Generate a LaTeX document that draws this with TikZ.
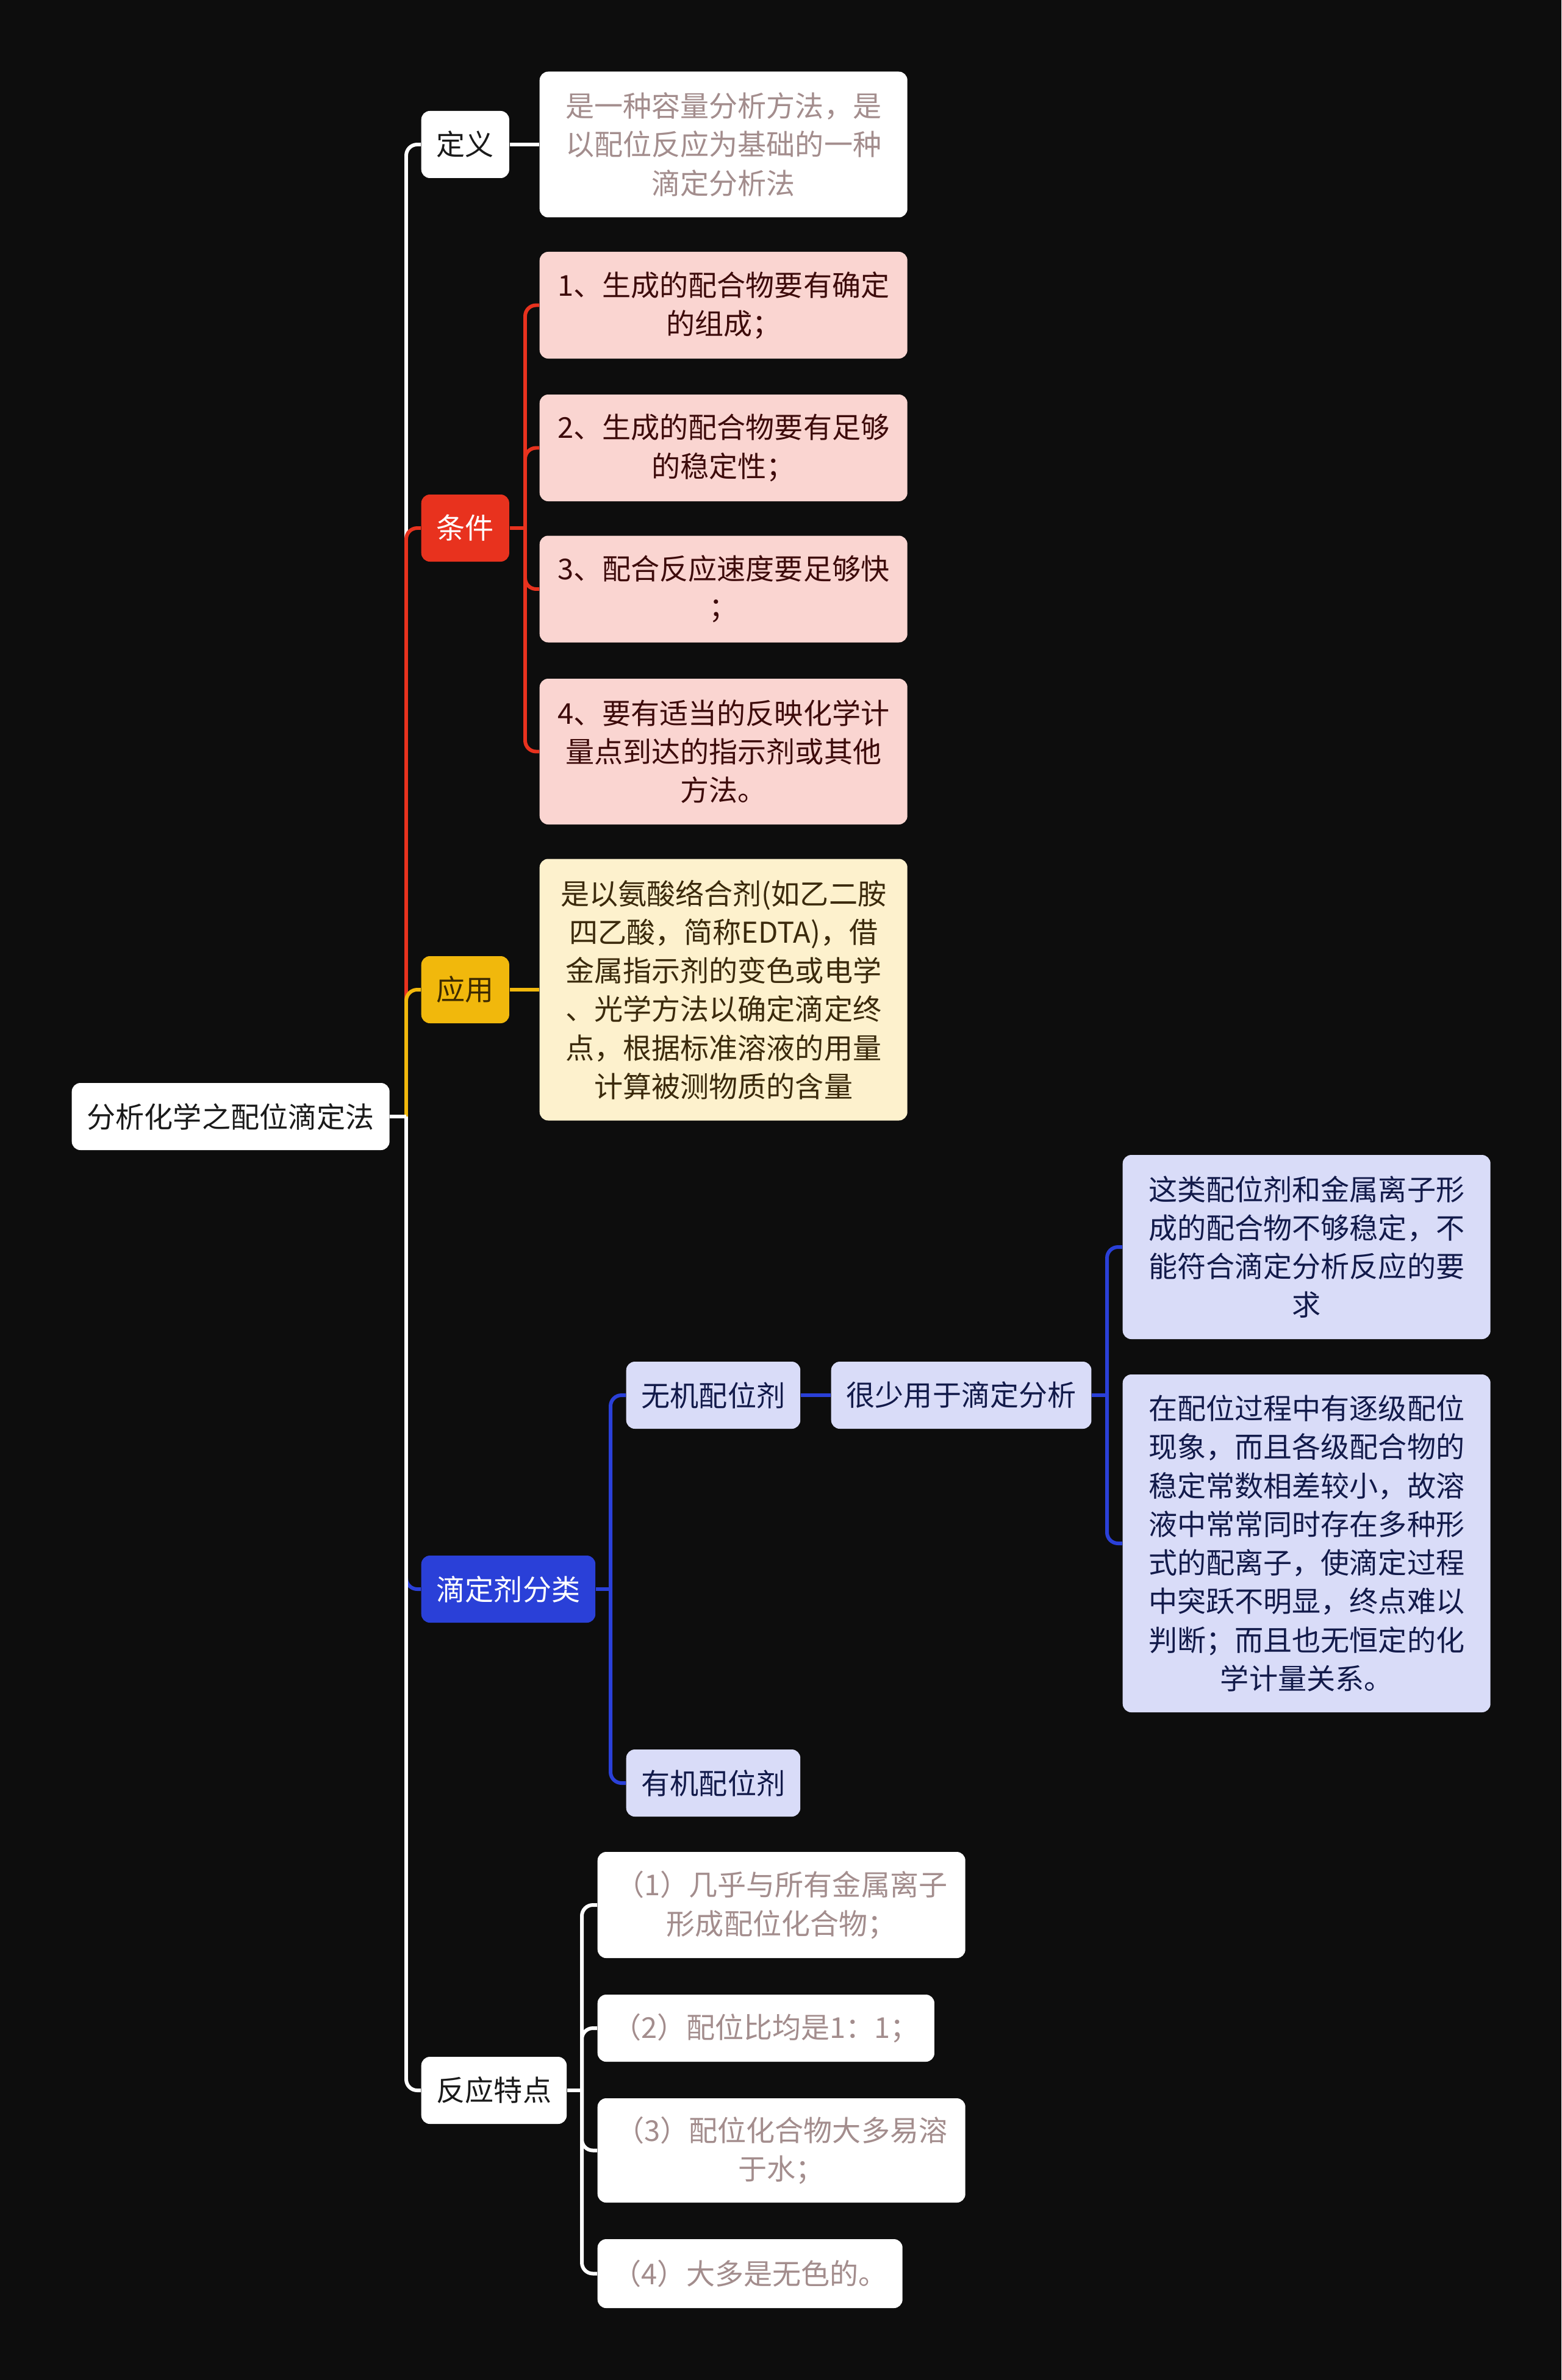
\documentclass[tikz,border=0pt]{standalone}
\usepackage{fontspec}
\setmainfont{Noto Sans CJK SC}
\usetikzlibrary{positioning,calc}
\definecolor{bgblk} {RGB}{ 13, 13, 13}
\definecolor{tdark} {RGB}{ 26, 26, 26}
\definecolor{trose} {RGB}{163,141,141}
\definecolor{cred}  {RGB}{232, 50, 30}
\definecolor{cpink} {RGB}{250,213,209}
\definecolor{tpink} {RGB}{ 61, 11, 11}
\definecolor{cgold} {RGB}{241,184, 12}
\definecolor{tgold} {RGB}{ 61, 42,  0}
\definecolor{ccream}{RGB}{253,241,205}
\definecolor{tcream}{RGB}{ 59, 42, 12}
\definecolor{cblue} {RGB}{ 42, 64,216}
\definecolor{clav}  {RGB}{217,220,248}
\definecolor{tlav}  {RGB}{ 18, 26, 74}
\tikzset{
  % common box
  MB/.style={rectangle,rounded corners=4pt,align=center,inner xsep=0.25cm,
             inner ysep=0pt,minimum height=1.1cm,
             font=\fontsize{13.4pt}{18pt}\selectfont},
  % white box, dark text
  WB/.style={MB,fill=white,text=tdark,minimum width=#1},
  WB/.default=1cm,
  % white box, grey text
  GB/.style={MB,fill=white,text=trose,minimum width=#1},
  GB/.default=1cm,
  % red topic
  RB/.style={MB,fill=cred,text=white,minimum width=#1},
  RB/.default=1cm,
  % pink leaf
  PB/.style={MB,fill=cpink,text=tpink,minimum width=#1},
  PB/.default=6.03cm,
  % gold topic
  YB/.style={MB,fill=cgold,text=tgold,minimum width=#1},
  YB/.default=1cm,
  % cream leaf
  CB/.style={MB,fill=ccream,text=tcream,minimum width=#1},
  CB/.default=6.03cm,
  % blue topic
  BB/.style={MB,fill=cblue,text=white,minimum width=#1},
  BB/.default=1cm,
  % lavender leaf
  LB/.style={MB,fill=clav,text=tlav,minimum width=#1},
  LB/.default=1cm,
  % connectors
  WL/.style={line width=1.7pt,draw=white,rounded corners=0.18cm},
  RL/.style={line width=1.7pt,draw=cred,rounded corners=0.18cm},
  YL/.style={line width=1.7pt,draw=cgold,rounded corners=0.18cm},
  BL/.style={line width=1.7pt,draw=cblue,rounded corners=0.18cm},
}
\begin{document}
\begin{tikzpicture}
  \fill[bgblk] (0,0) rectangle (25.6,-39.03);
  \useasboundingbox (0,0) rectangle (25.6,-39.03);

  \node[WB,anchor=west] at (1.17,-18.31) (root) {分析化学之配位滴定法};
  \coordinate (trunk) at (6.66,-18.31);

  % 定义
  \node[WB,anchor=west] at (6.90,-2.37) (def) {定义};
  \node[GB=6.03cm,minimum height=2.39cm,anchor=west]
        at (8.84,-2.37) (defd)
        {是一种容量分析方法，是\\以配位反应为基础的一种\\滴定分析法};
  \draw[WL] (trunk) |- (def.west);
  \draw[WL] (def.east) -- (defd.west);

  % 条件
  \node[RB,anchor=west] at (6.90,-8.66) (cond) {条件};
  \draw[RL] (trunk) |- (cond.west);
  \coordinate (cj) at (8.61,-8.66);
  \draw[RL] (cond.east) -- (cj);
  \node[PB,minimum height=1.75cm,anchor=west] at (8.84,-5.005) (c1)
        {1、生成的配合物要有确定\\的组成；};
  \node[PB,minimum height=1.75cm,anchor=west] at (8.84,-7.345) (c2)
        {2、生成的配合物要有足够\\的稳定性；};
  \node[PB,minimum height=1.75cm,anchor=west] at (8.84,-9.66) (c3)
        {3、配合反应速度要足够快\\；};
  \node[PB,minimum height=2.39cm,anchor=west] at (8.84,-12.325) (c4)
        {4、要有适当的反映化学计\\量点到达的指示剂或其他\\方法。};
  \foreach \c in {c1,c2,c3,c4}
    \draw[RL] (cj) |- (\c.west);

  % 应用
  \node[YB,anchor=west] at (6.90,-16.23) (app) {应用};
  \node[CB,minimum height=4.29cm,anchor=west] at (8.84,-16.23) (appd)
        {是以氨酸络合剂(如乙二胺\\四乙酸，简称EDTA)，借\\金属指示剂的变色或电学\\、光学方法以确定滴定终\\点，根据标准溶液的用量\\计算被测物质的含量};
  \draw[YL] (trunk) |- (app.west);
  \draw[YL] (app.east) -- (appd.west);

  % 滴定剂分类
  \node[BB,anchor=west] at (6.90,-26.06) (tit) {滴定剂分类};
  \draw[BL] (trunk) |- (tit.west);
  \coordinate (tj) at (10.01,-26.06);
  \draw[BL] (tit.east) -- (tj);
  \node[LB,anchor=west] at (10.26,-22.88) (inorg) {无机配位剂};
  \node[LB,anchor=west] at (10.26,-29.24) (org) {有机配位剂};
  \draw[BL] (tj) |- (inorg.west);
  \draw[BL] (tj) |- (org.west);
  \node[LB,anchor=west] at (13.62,-22.88) (rare) {很少用于滴定分析};
  \draw[BL] (inorg.east) -- (rare.west);
  \coordinate (rj) at (18.15,-22.88);
  \draw[BL] (rare.east) -- (rj);
  \node[LB=6.03cm,minimum height=3.02cm,anchor=west] at (18.40,-20.45) (rA)
        {这类配位剂和金属离子形\\成的配合物不够稳定，不\\能符合滴定分析反应的要\\求};
  \node[LB=6.03cm,minimum height=5.54cm,anchor=west] at (18.40,-25.31) (rB)
        {在配位过程中有逐级配位\\现象，而且各级配合物的\\稳定常数相差较小，故溶\\液中常常同时存在多种形\\式的配离子，使滴定过程\\中突跃不明显，终点难以\\判断；而且也无恒定的化\\学计量关系。};
  \draw[BL] (rj) |- (rA.west);
  \draw[BL] (rj) |- (rB.west);

  % 反应特点
  \node[WB,anchor=west] at (6.90,-34.28) (feat) {反应特点};
  \draw[WL] (trunk) |- (feat.west);
  \coordinate (fj) at (9.54,-34.28);
  \draw[WL] (feat.east) -- (fj);
  \node[GB=6.03cm,minimum height=1.74cm,anchor=west] at (9.79,-31.24) (f1)
        {（1）几乎与所有金属离子\\形成配位化合物；};
  \node[GB,anchor=west] at (9.79,-33.26) (f2) {（2）配位比均是1：1；};
  \node[GB=6.03cm,minimum height=1.71cm,anchor=west] at (9.79,-35.265) (f3)
        {（3）配位化合物大多易溶\\于水；};
  \node[GB,minimum height=1.13cm,anchor=west] at (9.79,-37.285) (f4)
        {（4）大多是无色的。};
  \foreach \f in {f1,f2,f3,f4}
    \draw[WL] (fj) |- (\f.west);

  \draw[WL] (root.east) -- (trunk);
\end{tikzpicture}
\end{document}
